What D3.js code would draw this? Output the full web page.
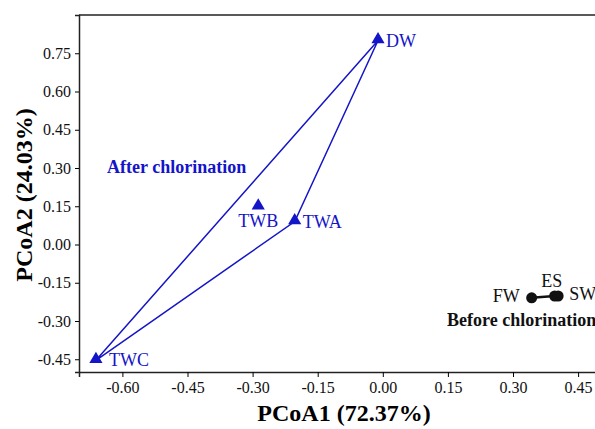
<!DOCTYPE html>
<html>
<head>
<meta charset="utf-8">
<script src="https://cdn.jsdelivr.net/npm/d3@7"></script>
<style>
  body { margin: 0; background: #fff; }
  svg text { font-family: "Liberation Serif", "Times New Roman", serif; }
</style>
</head>
<body>
<svg id="chart" width="595" height="429"></svg>
<script>
// PCoA scores
var afterNames = ["DW", "TWA", "TWB", "TWC"];
var afterX = [-0.011, -0.203, -0.287, -0.661];
var afterY = [0.800, 0.090, 0.148, -0.454];

var beforeNames = ["FW", "ES", "SW"];
var beforeX = [0.343, 0.396, 0.404];
var beforeY = [-0.209, -0.202, -0.202];

var xTicks = [-0.60, -0.45, -0.30, -0.15, 0.00, 0.15, 0.30, 0.45];
var yTicks = [-0.45, -0.30, -0.15, 0.00, 0.15, 0.30, 0.45, 0.60, 0.75];

var blue = "#1414c8";
var serif = "'Liberation Serif', 'Times New Roman', serif";
var fmt = d => d3.format(".2f")(d).replace("\u2212", "-");

var svg = d3.select("#chart"),
  margin = { top: 15, left: 79, bottom: 57 },
  height = +svg.attr("height");

var x = d3.scaleLinear().domain([-0.70, 0.55]).range([margin.left, margin.left + 1.25 * 434]);
var y = d3.scaleLinear().domain([-0.50, 0.90]).range([height - margin.bottom, margin.top]);

var after = afterNames.map((n, i) => ({ name: n, x: afterX[i], y: afterY[i] }));
var before = beforeNames.map((n, i) => ({ name: n, x: beforeX[i], y: beforeY[i] }));

// axes
svg.append("g")
  .attr("transform", "translate(0," + y.range()[0] + ")")
  .call(d3.axisBottom(x).tickValues(xTicks).tickFormat(fmt).tickSizeOuter(0).tickSize(5).tickPadding(5))
  .attr("font-family", serif)
  .call(g => g.selectAll("text").style("font-size", "16px").style("font-family", serif).attr("fill", "#111"))
  .call(g => g.select(".domain").attr("stroke", "#222").attr("stroke-width", 1.5));

svg.append("g")
  .attr("transform", "translate(" + margin.left + ",0)")
  .call(d3.axisLeft(y).tickValues(yTicks).tickFormat(fmt).tickSizeOuter(0).tickSize(4).tickPadding(4))
  .attr("font-family", serif)
  .call(g => g.selectAll("text").style("font-size", "16px").style("font-family", serif).attr("fill", "#111"))
  .call(g => g.select(".domain").attr("stroke", "#222").attr("stroke-width", 1.5));

// top frame line
svg.append("line")
  .attr("x1", margin.left).attr("x2", x.range()[1])
  .attr("y1", y.range()[1]).attr("y2", y.range()[1])
  .attr("stroke", "#222").attr("stroke-width", 1.5);

// axis titles
svg.append("text")
  .attr("x", 344).attr("y", 421)
  .attr("text-anchor", "middle")
  .style("font-size", "24px").style("font-weight", "bold")
  .text("PCoA1 (72.37%)");

svg.append("text")
  .attr("transform", "translate(32," + 195 + ") rotate(-90)")
  .attr("text-anchor", "middle")
  .style("font-size", "24px").style("font-weight", "bold")
  .text("PCoA2 (24.03%)");

// hulls
var hullA = d3.polygonHull(after.map(d => [x(d.x), y(d.y)]));
svg.append("path")
  .attr("d", "M" + hullA.join("L") + "Z")
  .attr("fill", "none").attr("stroke", blue).attr("stroke-width", 1.5);

svg.append("path")
  .attr("d", d3.line().x(d => x(d.x)).y(d => y(d.y))(before))
  .attr("fill", "none").attr("stroke", "#111").attr("stroke-width", 2.5);

// points
var tri = d3.symbol().type(d3.symbolTriangle).size(75);
svg.selectAll(".tri").data(after).enter().append("path")
  .attr("class", "tri")
  .attr("transform", d => "translate(" + x(d.x) + "," + (y(d.y) - 1) + ")")
  .attr("d", tri)
  .attr("fill", blue);

svg.selectAll(".dot").data(before).enter().append("circle")
  .attr("class", "dot")
  .attr("cx", d => x(d.x)).attr("cy", d => y(d.y))
  .attr("r", 5.5)
  .attr("fill", "#111");

// point labels
var afterLab = { DW: [8, 6, "start"], TWA: [8, 6, "start"], TWB: [0, 20, "middle"], TWC: [13, 6, "start"] };
svg.selectAll(".alab").data(after).enter().append("text")
  .attr("x", d => x(d.x) + afterLab[d.name][0])
  .attr("y", d => y(d.y) + afterLab[d.name][1])
  .attr("text-anchor", d => afterLab[d.name][2])
  .style("font-size", "18px").attr("fill", blue)
  .text(d => d.name);

var beforeLab = { FW: [-12, 4, "end"], ES: [-3, -9, "middle"], SW: [11, 4, "start"] };
svg.selectAll(".blab").data(before).enter().append("text")
  .attr("x", d => x(d.x) + beforeLab[d.name][0])
  .attr("y", d => y(d.y) + beforeLab[d.name][1])
  .attr("text-anchor", d => beforeLab[d.name][2])
  .style("font-size", "18px").attr("fill", "#111")
  .text(d => d.name);

// group labels
svg.append("text")
  .attr("x", 107).attr("y", 173)
  .style("font-size", "18px").style("font-weight", "bold").attr("fill", blue)
  .text("After chlorination");

svg.append("text")
  .attr("x", 447).attr("y", 326)
  .style("font-size", "18px").style("font-weight", "bold").attr("fill", "#111")
  .text("Before chlorination");
</script>
</body>
</html>
